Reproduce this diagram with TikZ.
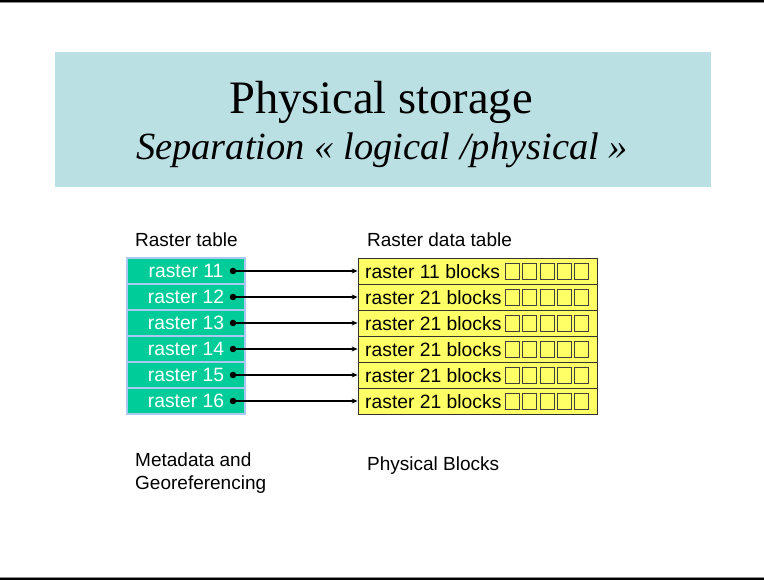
\documentclass[tikz,border=0pt]{standalone}
\usepackage{fontspec}
\setmainfont{Liberation Serif}
\setsansfont{Liberation Sans}
\usetikzlibrary{arrows.meta}
\definecolor{titlebg}{RGB}{187,224,227}
\definecolor{metagreen}{RGB}{0,204,153}
\definecolor{metaedge}{RGB}{170,200,240}
\definecolor{blockyellow}{RGB}{255,255,102}
\tikzset{
  lbl/.style={font=\sffamily\fontsize{19}{23}\selectfont, anchor=base west, inner sep=0pt, align=left},
  metacell/.style={fill=metagreen, draw=metaedge, line width=1.2pt, minimum width=118pt, minimum height=26pt,
    inner sep=0pt, text=white, font=\sffamily\fontsize{19.3}{22}\selectfont},
  blockcell/.style={fill=blockyellow, draw=black!80, line width=0.8pt, minimum width=239pt, minimum height=26pt,
    inner sep=0pt},
  blocktext/.style={anchor=west, inner sep=0pt, font=\sffamily\fontsize{19.3}{22}\selectfont},
  blocksq/.style={draw=black!75, line width=0.7pt},
  ptr/.style={line width=1.2pt, -{Stealth[length=6pt,width=5pt]}},
  ptrdot/.style={fill=black, inner sep=0pt, minimum size=6.5pt, circle}
}
\begin{document}
\begin{tikzpicture}[x=1pt, y=-1pt]
  \useasboundingbox (0,0) rectangle (764,580);
  % slide frame rules
  \fill[black] (0,0) rectangle (764,2.5);
  \fill[black!45] (0,2.5) rectangle (764,3.5);
  \fill[black!45] (0,576.5) rectangle (764,577.5);
  \fill[black] (0,577.5) rectangle (764,580);

  % title banner
  \fill[titlebg] (55,52) rectangle (711,187);
  \node[font=\fontsize{46.5}{50}\selectfont, anchor=base, inner sep=0pt] (title) at (381,114) {Physical storage};
  \node[font=\itshape\fontsize{38.5}{42}\selectfont, anchor=base, inner sep=0pt] (subtitle) at (382,160)
    {Separation « logical /physical »};

  % column headings and captions
  \node[lbl] (hleft) at (135,247) {Raster table};
  \node[lbl] (hright) at (367,247) {Raster data table};
  \node[lbl, anchor=north west] (cleft) at (135,453) {Metadata and\\Georeferencing};
  \node[lbl] (cright) at (367,470) {Physical Blocks};

  % rows: metadata cell, block cell, pointer
  \foreach \i/\lab/\blk in {1/11/11, 2/12/21, 3/13/21, 4/14/21, 5/15/21, 6/16/21} {
    \pgfmathsetmacro{\yc}{258+26*(\i-1)+13}
    \node[metacell] (m\i) at (186,\yc) {raster \lab};
    \node[blockcell] (b\i) at (477.5,\yc) {};
    \node[blocktext] (t\i) at (365,\yc+0.5) {raster \blk\ blocks};
    \foreach \k in {0,...,4} {
      \draw[blocksq] (505.5+17.2*\k,\yc-7.5) rectangle ++(14,16);
    }
    \node[ptrdot] (d\i) at (233,\yc) {};
    \draw[ptr] (d\i.center) -- (b\i.west);
  }
\end{tikzpicture}
\end{document}
